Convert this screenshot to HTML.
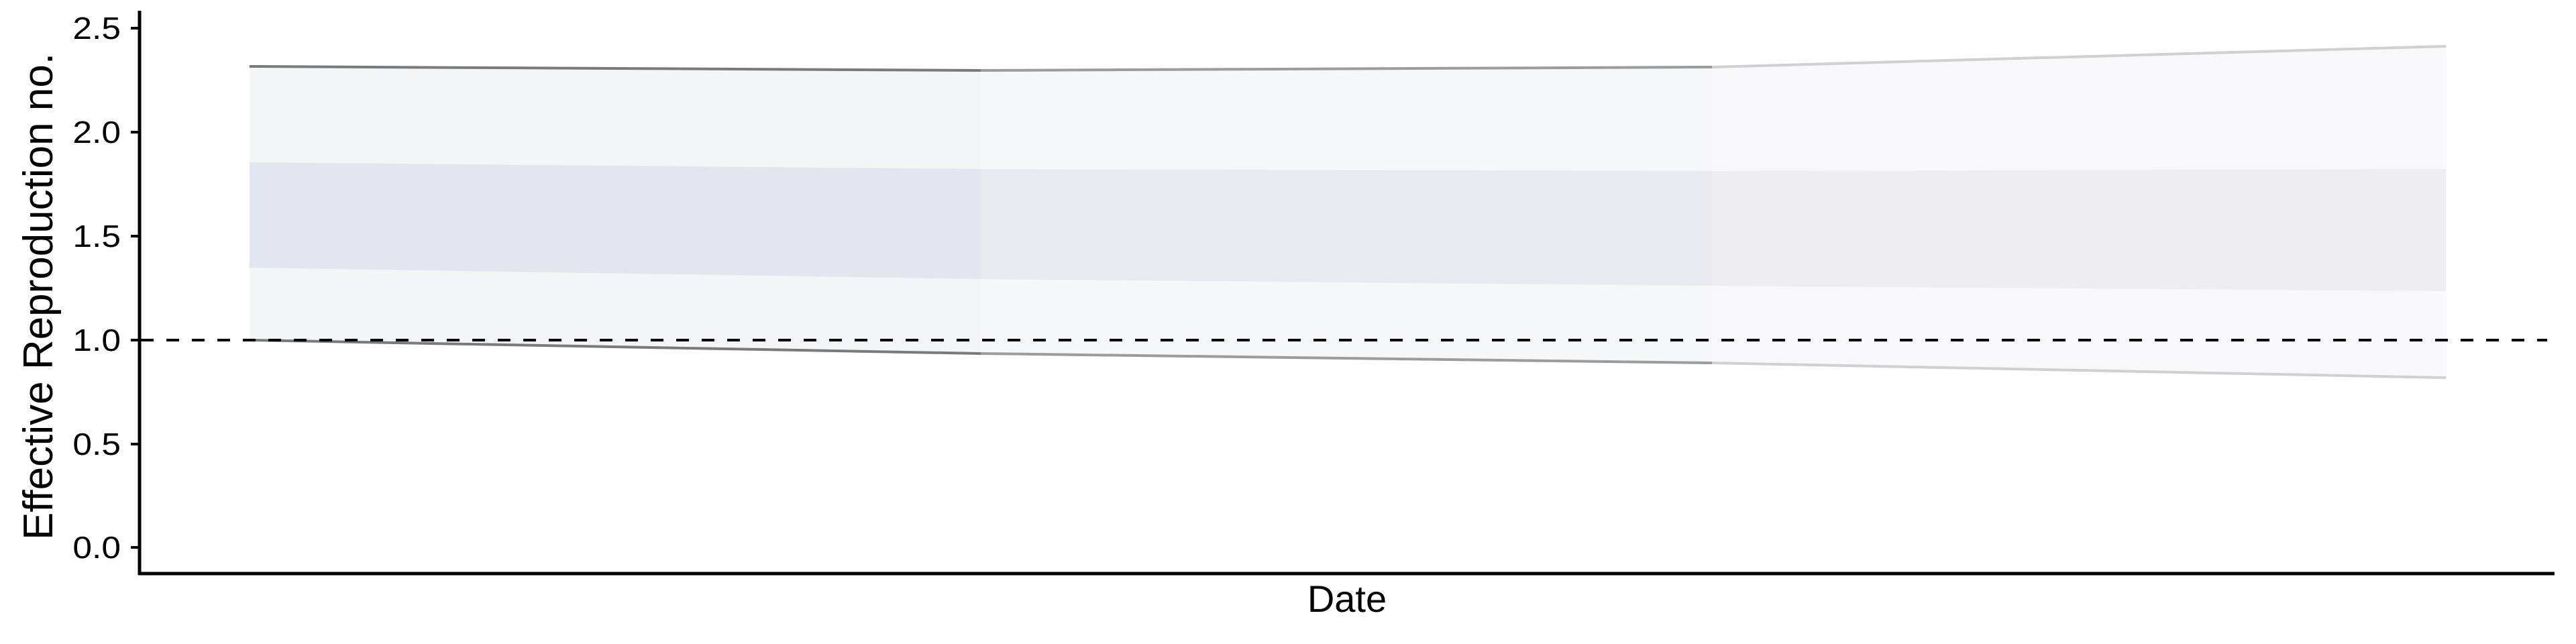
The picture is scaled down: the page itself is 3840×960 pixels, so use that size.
<!DOCTYPE html>
<html><head><meta charset="utf-8"><style>html,body{margin:0;padding:0;background:#fff;width:3840px;height:960px;overflow:hidden}</style></head>
<body>
<svg width="3840" height="960" viewBox="0 0 3840 960" xmlns="http://www.w3.org/2000/svg" font-family="Liberation Sans, sans-serif">
<rect width="3840" height="960" fill="#fff"/>
<polygon points="372,99 1462,105 1462,527 372,507" fill="#f4f5f7"/>
<polygon points="1462,105 2552,100 2552,541 1462,527" fill="#f6f7f9"/>
<polygon points="2552,100 3646,69 3646,563 2552,541" fill="#f8f8fa"/>
<polygon points="372,242 1462,252 1462,416 372,399" fill="#e3e6ee"/>
<polygon points="1462,252 2552,255 2552,426 1462,416" fill="#e9eaf0"/>
<polygon points="2552,255 3646,252 3646,434 2552,426" fill="#ededf2"/>
<g stroke-width="4" fill="none">
<line x1="372" y1="99" x2="1462" y2="105" stroke="#7a7a7a"/>
<line x1="1462" y1="105" x2="2552" y2="100" stroke="#9c9c9c"/>
<line x1="2552" y1="100" x2="3646" y2="69" stroke="#d0d0d0"/>
<line x1="372" y1="507" x2="1462" y2="527" stroke="#7a7a7a"/>
<line x1="1462" y1="527" x2="2552" y2="541" stroke="#9c9c9c"/>
<line x1="2552" y1="541" x2="3646" y2="563" stroke="#d0d0d0"/>
</g>
<line x1="210" y1="507" x2="3797" y2="507" stroke="#000" stroke-width="4" stroke-dasharray="19,19"/>
<line x1="208" y1="16" x2="208" y2="857" stroke="#000" stroke-width="5"/>
<line x1="206" y1="855" x2="3808" y2="855" stroke="#000" stroke-width="5"/>
<g stroke="#000" stroke-width="4">
<line x1="195" y1="42" x2="208" y2="42"/>
<line x1="195" y1="197" x2="208" y2="197"/>
<line x1="195" y1="352" x2="208" y2="352"/>
<line x1="195" y1="507" x2="208" y2="507"/>
<line x1="195" y1="662" x2="208" y2="662"/>
<line x1="195" y1="816" x2="208" y2="816"/>
</g>
<g font-size="46" text-anchor="end" fill="#000" transform="translate(180,0) scale(1.12,1) translate(-180,0)">
<text x="180" y="58">2.5</text>
<text x="180" y="213">2.0</text>
<text x="180" y="368">1.5</text>
<text x="180" y="523">1.0</text>
<text x="180" y="678">0.5</text>
<text x="180" y="832">0.0</text>
</g>
<text x="2008" y="912" font-size="56" text-anchor="middle">Date</text>
<text transform="translate(78,442) rotate(-90)" font-size="62" text-anchor="middle">Effective Reproduction no.</text>
</svg>
</body></html>
